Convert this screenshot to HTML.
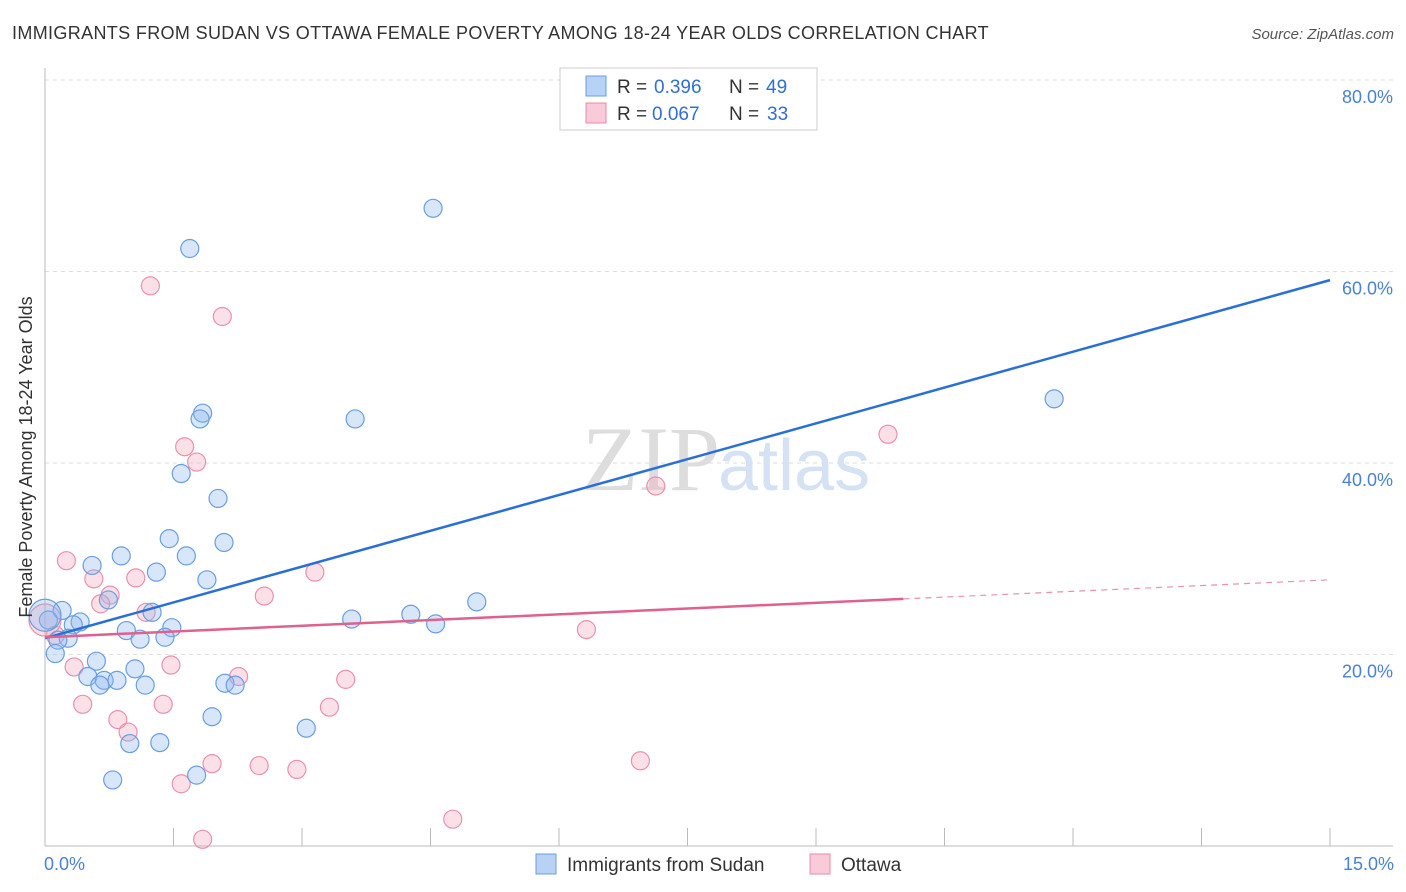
<!DOCTYPE html>
<html><head><meta charset="utf-8"><style>
body{margin:0;background:#fff;font-family:"Liberation Sans",sans-serif}
svg{display:block}
</style></head><body>
<svg width="1406" height="892" xmlns="http://www.w3.org/2000/svg">
<text x="12" y="39" font-size="18" fill="#333" letter-spacing="0.35">IMMIGRANTS FROM SUDAN VS OTTAWA FEMALE POVERTY AMONG 18-24 YEAR OLDS CORRELATION CHART</text>
<text x="1394" y="39" font-size="15" fill="#555" font-style="italic" text-anchor="end">Source: ZipAtlas.com</text>
<g id="grid"></g>
<text x="720" y="490" font-size="92" fill="#ddd" text-anchor="end" font-family="Liberation Serif,serif">ZIP</text>
<text x="718" y="490" font-size="72" fill="#d4e2f4">atlas</text>
<g id="axes"></g>
<g id="pts"></g>
<g id="lines"></g>
<text transform="translate(32,457) rotate(-90)" font-size="18" fill="#333" text-anchor="middle">Female Poverty Among 18-24 Year Olds</text>
<text x="44" y="870" font-size="18" fill="#4a80d6">0.0%</text>
<text x="1394" y="870" font-size="18" fill="#4a80d6" text-anchor="end">15.0%</text>
<g>
<rect x="560" y="68" width="257" height="62" fill="#fff" stroke="#ccc"/>
<rect x="586" y="76" width="20" height="20" fill="#b8d2f5" stroke="#6a9ee0"/>
<rect x="586" y="103" width="20" height="20" fill="#f9cbd9" stroke="#e88aaa"/>
<text x="617" y="93" font-size="19" fill="#333">R =</text>
<text x="654" y="93" font-size="19" fill="#2f6fd6">0.396</text>
<text x="729" y="93" font-size="19" fill="#333">N =</text>
<text x="766" y="93" font-size="19" fill="#2f6fd6">49</text>
<text x="617" y="120" font-size="19" fill="#333">R =</text>
<text x="652" y="120" font-size="19" fill="#2f6fd6">0.067</text>
<text x="729" y="120" font-size="19" fill="#333">N =</text>
<text x="767" y="120" font-size="19" fill="#2f6fd6">33</text>
</g>
<g>
<rect x="536" y="854" width="20" height="20" fill="#b8d2f5" stroke="#6a9ee0"/>
<text x="567" y="871" font-size="19" fill="#333">Immigrants from Sudan</text>
<rect x="810" y="854" width="20" height="20" fill="#f9cbd9" stroke="#e88aaa"/>
<text x="841" y="871" font-size="19" fill="#333">Ottawa</text>
</g>
</svg>
<script>
const yTicks=[20,40,60,80];
const yTickLabels=["20.0%","40.0%","60.0%","80.0%"];
const xTicks=[0,1.5,3,4.5,6,7.5,9,10.5,12,13.5,15];
const blueX=[4.53,1.69,1.84,1.81,3.62,11.78,1.59,2.02,1.45,2.09,0.89,1.65,0.55,1.30,1.89,0.74,1.25,0.41,0.33,4.27,5.04,3.58,4.56,0.20,0.04,1.48,0.95,1.11,1.40,0.27,0.15,0.12,0.60,1.05,0.50,0.69,0.84,0.64,1.17,2.10,2.22,1.95,3.05,0.99,1.34,1.77,0.79,0.0];
const blueY=[66.6,62.4,45.2,44.6,44.6,46.7,38.9,36.3,32.1,31.7,30.3,30.3,29.3,28.6,27.8,25.7,24.4,23.4,23.1,24.2,25.5,23.7,23.2,24.6,23.6,22.8,22.5,21.6,21.8,21.7,21.5,20.1,19.3,18.5,17.7,17.3,17.3,16.8,16.8,17.0,16.8,13.5,12.3,10.7,10.8,7.4,6.9,24.1];
const pinkX=[1.23,2.07,9.84,1.63,1.77,7.13,0.25,0.57,1.06,3.15,0.76,0.65,2.56,1.18,0.12,6.32,0.34,1.47,2.26,3.51,0.44,1.38,3.32,0.85,0.97,1.95,2.50,2.94,6.95,1.59,4.76,1.84,0.0];
const pinkY=[58.5,55.3,43.0,41.7,40.1,37.6,29.8,27.9,28.0,28.6,26.2,25.3,26.1,24.4,22.0,22.6,18.7,18.9,17.7,17.4,14.8,14.8,14.5,13.2,11.9,8.6,8.4,8.0,8.9,6.5,2.8,0.7,23.6];
const blueTrend=[21.7,59.1];
const pinkTrend=[21.8,27.8];
const pinkSolidEnd=10.02;
const NS="http://www.w3.org/2000/svg";
const X=v=>45+v/15*1285, Y=v=>846-v*9.575;
function mk(t,a,p){const e=document.createElementNS(NS,t);for(const k in a)e.setAttribute(k,a[k]);p.appendChild(e);return e;}
const grid=document.getElementById('grid'),axes=document.getElementById('axes');
yTicks.forEach((t,i)=>{
 const l=mk('line',{x1:45,x2:1393,y1:Y(t),y2:Y(t),stroke:'#ddd','stroke-dasharray':'4,4'},grid);
 
 
 const tx=mk('text',{x:1393,y:Y(t)+23,'font-size':18,fill:'#4a80d6','text-anchor':'end'},grid);
 tx.textContent=yTickLabels[i];
 
 
});
mk('line',{x1:45,x2:45,y1:68,y2:846,stroke:'#bbb'},axes);
mk('line',{x1:45,x2:1393,y1:846,y2:846,stroke:'#bbb'},axes);
xTicks.forEach(t=>{const l=mk('line',{x1:X(t),x2:X(t),y1:828,y2:846,stroke:'#bbb'},axes);
 
 });
const pts=document.getElementById('pts');
function dots(xs,ys,fill,stroke,name){xs.forEach((x,i)=>{const big=(i===xs.length-1);
 const c=mk('circle',{cx:X(x),cy:Y(ys[i]),r:big?16:9,fill:fill,stroke:stroke,'stroke-width':1.2},pts);
 
 });}
dots(pinkX,pinkY,'rgba(245,165,190,0.35)','#e891ae','ottawa-point');
dots(blueX,blueY,'rgba(140,182,238,0.35)','#6a9ee0','sudan-point');
const lines=document.getElementById('lines');
const bl=mk('line',{x1:X(0),y1:Y(blueTrend[0]),x2:X(15),y2:Y(blueTrend[1]),stroke:'#2a6fd6','stroke-width':2.5},lines);


const pm=pinkTrend[0]+(pinkTrend[1]-pinkTrend[0])*pinkSolidEnd/15;
const pl=mk('line',{x1:X(0),y1:Y(pinkTrend[0]),x2:X(pinkSolidEnd),y2:Y(pm),stroke:'#e0608e','stroke-width':2.5},lines);


const pd=mk('line',{x1:X(pinkSolidEnd),y1:Y(pm),x2:X(15),y2:Y(pinkTrend[1]),stroke:'#e891ae','stroke-width':1.2,'stroke-dasharray':'6,5'},lines);


</script>
</body></html>
